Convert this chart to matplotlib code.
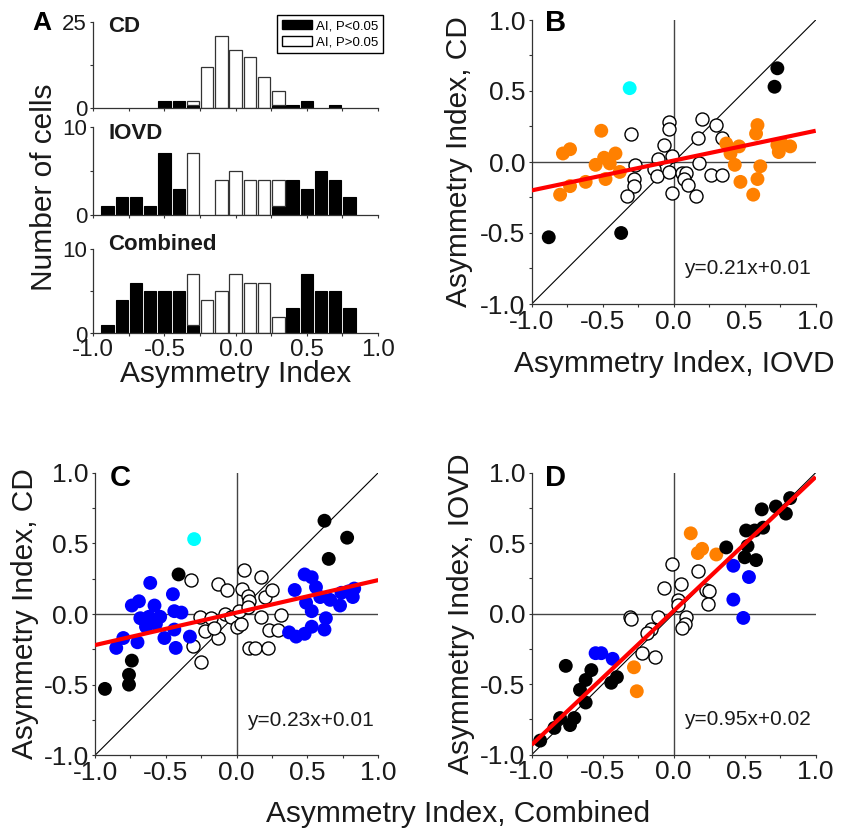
import numpy as np
import matplotlib
matplotlib.use('Agg')
import matplotlib.pyplot as plt
from matplotlib.patches import Patch
from matplotlib.ticker import MultipleLocator, FormatStrFormatter

plt.rcParams['font.family'] = 'Liberation Sans'
plt.rcParams['axes.unicode_minus'] = False

# ---- histogram counts (bins of width 0.1) ----
bin_centers = [-0.9, -0.8, -0.7, -0.6, -0.5, -0.4, -0.3, -0.2, -0.1,
               0.0, 0.1, 0.2, 0.3, 0.4, 0.5, 0.6, 0.7, 0.8]
cd_sig = [0, 0, 0, 0, 2, 2, 1, 0, 0, 0, 0, 0, 1, 1, 2, 0, 1, 0]
cd_nonsig = [0, 0, 0, 0, 0, 0, 1, 12, 21, 17, 15, 9, 4, 0, 0, 0, 0, 0]
iovd_sig = [1, 2, 2, 1, 7, 3, 0, 0, 0, 0, 0, 0, 1, 4, 3, 5, 4, 2]
iovd_nonsig = [0, 0, 0, 0, 0, 0, 7, 0, 4, 5, 4, 4, 3, 0, 0, 0, 0, 0]
comb_sig = [1, 4, 6, 5, 5, 5, 1, 0, 0, 0, 0, 0, 0, 3, 7, 5, 5, 3]
comb_nonsig = [0, 0, 0, 0, 0, 0, 6, 4, 5, 7, 6, 6, 2, 0, 0, 0, 0, 0]

# ---- B: CD vs IOVD ----
b_black_x = [-0.88, -0.37, 0.73, 0.71]
b_black_y = [-0.53, -0.50, 0.66, 0.53]
b_cyan_x = [-0.31]
b_cyan_y = [0.52]
b_orange_x = [-0.80, -0.73, -0.78, -0.73, -0.62, -0.51, -0.55, -0.49, -0.48, -0.45, -0.41, -0.38,
              0.37, 0.40, 0.43, 0.47, 0.46, 0.59, 0.58, 0.61, 0.59, 0.56, 0.74, 0.76, 0.82, 0.73]
b_orange_y = [-0.23, -0.17, 0.06, 0.09, -0.14, 0.22, -0.02, 0.03, -0.12, -0.01, 0.06, -0.07,
              0.13, 0.06, -0.02, -0.14, 0.11, 0.26, 0.20, -0.03, -0.12, -0.23, 0.07, 0.13, 0.11, 0.12]
b_open_x = [-0.30, -0.27, -0.28, -0.28, -0.33, -0.03, -0.03, -0.07, -0.11, -0.14, -0.12, -0.01, -0.03,
            -0.01, 0.06, 0.09, 0.07, 0.10, 0.16, 0.17, 0.18, 0.20, 0.30, 0.34, 0.26, 0.34]
b_open_y = [0.20, -0.02, -0.12, -0.17, -0.24, 0.28, 0.23, 0.12, 0.02, -0.05, -0.10, 0.04, -0.07,
            -0.22, -0.08, -0.08, -0.12, -0.16, -0.24, 0.17, -0.01, 0.30, 0.26, 0.17, -0.09, -0.09]
b_fit = (0.21, 0.01)

# ---- C: CD vs Combined ----
c_black_x = [-0.93, -0.76, -0.76, -0.74, -0.41, 0.62, 0.78, 0.65]
c_black_y = [-0.53, -0.50, -0.43, -0.33, 0.28, 0.66, 0.54, 0.39]
c_cyan_x = [-0.30]
c_cyan_y = [0.53]
c_blue_x = [-0.85, -0.80, -0.70, -0.74, -0.69, -0.61, -0.68, -0.62, -0.64, -0.58, -0.57, -0.54,
            -0.51, -0.45, -0.44, -0.39, -0.44, -0.43, -0.33,
            0.37, 0.42, 0.48, 0.53, 0.62, 0.63, 0.41, 0.48, 0.53, 0.56, 0.49, 0.53, 0.59,
            0.66, 0.73, 0.74, 0.79, 0.83, 0.82]
c_blue_y = [-0.24, -0.17, -0.20, 0.06, 0.09, 0.22, -0.03, -0.02, -0.09, 0.06, -0.07, -0.02,
            -0.17, 0.14, 0.02, 0.01, -0.11, -0.24, -0.16,
            -0.13, -0.16, -0.14, -0.09, -0.11, -0.03, 0.17, 0.28, 0.26, 0.19, 0.08, 0.02, 0.12,
            0.10, 0.06, 0.15, 0.16, 0.18, 0.12]
c_open_x = [-0.32, -0.31, -0.25, -0.26, -0.22, -0.18, -0.13, -0.07, -0.13, -0.16, -0.08, -0.04,
            0.00, 0.03, 0.05, 0.04, 0.08, 0.09, 0.02, 0.08, 0.17, 0.20, 0.25, 0.17, 0.23, 0.31,
            0.29, 0.09, 0.13, 0.22]
c_open_y = [0.24, -0.23, -0.34, -0.02, -0.12, -0.03, 0.21, 0.17, -0.17, -0.10, 0.00, -0.02,
            -0.09, -0.07, 0.31, 0.18, 0.13, 0.09, 0.02, 0.05, 0.26, 0.12, 0.17, -0.02, -0.11, -0.01,
            -0.11, -0.24, -0.24, -0.24]
c_fit = (0.23, 0.01)

# ---- D: IOVD vs Combined ----
d_black_x = [-0.94, -0.84, -0.80, -0.73, -0.70, -0.76, -0.66, -0.62, -0.58, -0.62, -0.44, -0.40,
             0.37, 0.51, 0.52, 0.50, 0.58, 0.57, 0.63, 0.62, 0.72, 0.79, 0.82]
d_black_y = [-0.90, -0.81, -0.74, -0.79, -0.74, -0.37, -0.54, -0.47, -0.40, -0.63, -0.49, -0.45,
             0.47, 0.59, 0.48, 0.40, 0.38, 0.59, 0.61, 0.74, 0.76, 0.71, 0.82]
d_orange_x = [0.12, 0.17, 0.20, 0.30, -0.28, -0.26]
d_orange_y = [0.57, 0.43, 0.46, 0.42, -0.38, -0.55]
d_blue_x = [-0.55, -0.51, -0.43, 0.42, 0.53, 0.42, 0.49]
d_blue_y = [-0.28, -0.28, -0.32, 0.34, 0.26, 0.10, -0.03]
d_open_x = [-0.01, 0.17, 0.05, -0.07, 0.03, 0.03, 0.23, 0.25, 0.24, 0.09, 0.08, 0.06,
            -0.31, -0.30, -0.11, -0.16, -0.19, -0.22, -0.13]
d_open_y = [0.35, 0.30, 0.21, 0.18, 0.10, 0.06, 0.17, 0.16, 0.07, -0.02, -0.07, -0.10,
            -0.02, -0.04, -0.02, -0.11, -0.14, -0.28, -0.31]
d_fit = (0.95, 0.02)

W, H = 860, 830
TXT = '#1a1a1a'
EDGE = '#333333'
ORANGE = '#ff8000'
BLUE = '#0000ff'
CYAN = '#00ffff'


def px_box(left, right, top, bottom):
    return [left / W, 1 - bottom / H, (right - left) / W, (bottom - top) / H]


def fig_xy(x, y):
    return x / W, 1 - y / H


def style_axes(ax, xsize, ysize):
    for s in ['top', 'right']:
        ax.spines[s].set_visible(False)
    for s in ['left', 'bottom']:
        ax.spines[s].set_color(EDGE)
        ax.spines[s].set_linewidth(0.9)
    ax.tick_params(which='both', direction='out', length=2.5, width=0.8,
                   colors=EDGE, labelcolor=TXT)
    ax.tick_params(axis='x', pad=1.5, labelsize=xsize)
    ax.tick_params(axis='y', pad=2, labelsize=ysize)


def draw_hist(ax, sig, nonsig, ymax, show_x):
    centers = np.array(bin_centers)
    sig = np.array(sig)
    nonsig = np.array(nonsig)
    m = sig > 0
    ax.bar(centers[m], sig[m], width=0.087, color='black', edgecolor='black', linewidth=0.8)
    m2 = nonsig > 0
    ax.bar(centers[m2], nonsig[m2], bottom=sig[m2], width=0.087, color='white',
           edgecolor=EDGE, linewidth=0.9)
    ax.set_xlim(-1, 1)
    ax.set_ylim(0, ymax)
    ax.set_yticks([0, ymax])
    ax.yaxis.set_minor_locator(MultipleLocator(ymax / 2))
    ax.xaxis.set_major_locator(MultipleLocator(0.5))
    ax.xaxis.set_minor_locator(MultipleLocator(0.25))
    ax.xaxis.set_major_formatter(FormatStrFormatter('%.1f'))
    style_axes(ax, 17.5, 16)
    if not show_x:
        ax.tick_params(labelbottom=False)


def draw_scatter(ax, fit, groups):
    ax.set_xlim(-1, 1)
    ax.set_ylim(-1, 1)
    ax.axhline(0, color='#444444', lw=1, zorder=1)
    ax.axvline(0, color='#444444', lw=1, zorder=1)
    ax.plot([-1, 1], [-1, 1], color='black', lw=0.8, zorder=1)
    for xs, ys, color in groups:
        if color == 'open':
            ax.scatter(xs, ys, s=88, facecolors='white', edgecolors='black',
                       linewidths=1, zorder=2)
        else:
            ax.scatter(xs, ys, s=100, color=color, edgecolors='none', zorder=3)
    slope, icpt = fit
    lx = np.array([-1.0, 1.0])
    ax.plot(lx, slope * lx + icpt, color='red', lw=3, zorder=4, solid_capstyle='butt')
    ax.text(0.07, -0.79, 'y=%.2fx+%.2f' % (slope, icpt), fontsize=15, color=TXT,
            ha='left', va='baseline')
    for axis in [ax.xaxis, ax.yaxis]:
        axis.set_major_locator(MultipleLocator(0.5))
        axis.set_minor_locator(MultipleLocator(0.25))
        axis.set_major_formatter(FormatStrFormatter('%.1f'))
    style_axes(ax, 19, 19)


fig = plt.figure(figsize=(W / 100, H / 100), dpi=100)

# panel A: stacked histograms
ax_cd = fig.add_axes(px_box(93.3, 378, 22, 108.3))
draw_hist(ax_cd, cd_sig, cd_nonsig, 25, False)
ax_iovd = fig.add_axes(px_box(93.3, 378, 126.7, 215))
draw_hist(ax_iovd, iovd_sig, iovd_nonsig, 10, False)
ax_comb = fig.add_axes(px_box(93.3, 378, 249, 333.5))
draw_hist(ax_comb, comb_sig, comb_nonsig, 10, True)

for name, ytop in [('CD', 16), ('IOVD', 123), ('Combined', 234)]:
    fig.text(*fig_xy(108, ytop), name, fontsize=16, fontweight='bold', color=TXT,
             ha='left', va='top')

handles = [Patch(facecolor='black', edgecolor='black', label='AI, P<0.05'),
           Patch(facecolor='white', edgecolor='black', label='AI, P>0.05')]
leg = fig.legend(handles=handles, loc='upper right', bbox_to_anchor=fig_xy(383, 15),
                 fontsize=9.5, handlelength=2.3, handleheight=0.75, borderpad=0.35,
                 labelspacing=0.3, handletextpad=0.3, borderaxespad=0,
                 fancybox=False, framealpha=1)
leg.get_frame().set_edgecolor('black')
leg.get_frame().set_linewidth(1)

fig.text(*fig_xy(44, 187), 'Number of cells', rotation=90, fontsize=21.5, color=TXT,
         ha='center', va='center')
fig.text(*fig_xy(236, 382), 'Asymmetry Index', fontsize=21.5, color=TXT,
         ha='center', va='baseline')

# panel B
ax_b = fig.add_axes(px_box(531.7, 815.7, 20, 304))
draw_scatter(ax_b, b_fit, [(b_open_x, b_open_y, 'open'),
                           (b_orange_x, b_orange_y, ORANGE),
                           (b_black_x, b_black_y, 'black'),
                           (b_cyan_x, b_cyan_y, CYAN)])
fig.text(*fig_xy(674, 372), 'Asymmetry Index, IOVD', fontsize=21.5, color=TXT,
         ha='center', va='baseline')
fig.text(*fig_xy(459, 162), 'Asymmetry Index, CD', rotation=90, fontsize=21.5, color=TXT,
         ha='center', va='center')

# panel C
ax_c = fig.add_axes(px_box(95, 378.3, 472.7, 755.3))
draw_scatter(ax_c, c_fit, [(c_open_x, c_open_y, 'open'),
                           (c_blue_x, c_blue_y, BLUE),
                           (c_black_x, c_black_y, 'black'),
                           (c_cyan_x, c_cyan_y, CYAN)])
fig.text(*fig_xy(25, 614), 'Asymmetry Index, CD', rotation=90, fontsize=21.5, color=TXT,
         ha='center', va='center')

# panel D
ax_d = fig.add_axes(px_box(531.7, 815.7, 472.7, 754.7))
draw_scatter(ax_d, d_fit, [(d_open_x, d_open_y, 'open'),
                           (d_orange_x, d_orange_y, ORANGE),
                           (d_blue_x, d_blue_y, BLUE),
                           (d_black_x, d_black_y, 'black')])
fig.text(*fig_xy(461, 614), 'Asymmetry Index, IOVD', rotation=90, fontsize=21.5, color=TXT,
         ha='center', va='center')

fig.text(*fig_xy(458, 822), 'Asymmetry Index, Combined', fontsize=21.5, color=TXT,
         ha='center', va='baseline')

# panel letters
for letter, x, ytop, size in [('A', 32, 11, 19), ('B', 545, 9, 21),
                              ('C', 110, 464, 21), ('D', 545, 464, 21)]:
    fig.text(*fig_xy(x, ytop), letter, fontsize=size, fontweight='bold', color='black',
             ha='left', va='top')

fig.savefig('out.png', dpi=100)
